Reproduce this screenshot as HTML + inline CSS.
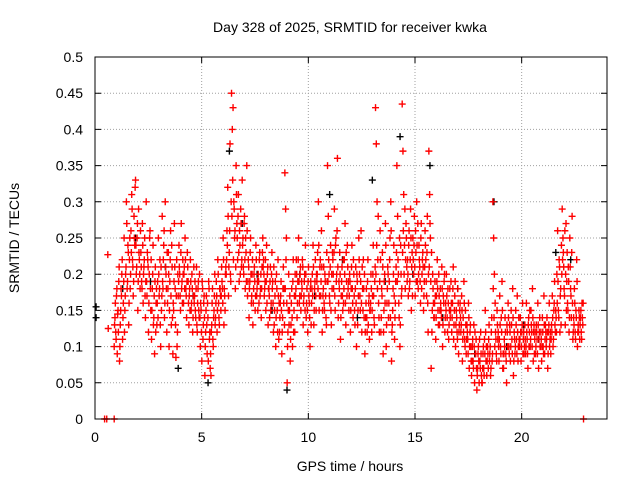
<!DOCTYPE html>
<html><head><meta charset="utf-8"><style>
body{margin:0;background:#fff}
svg text{font-family:"Liberation Sans",sans-serif;font-size:14px;fill:#000}
</style></head><body>
<svg id="chart" width="640" height="480" viewBox="0 0 640 480" xmlns="http://www.w3.org/2000/svg">
<rect width="640" height="480" fill="#fff"/>
<text x="350" y="32" text-anchor="middle">Day 328 of 2025, SRMTID for receiver kwka</text>
<text x="350" y="471" text-anchor="middle">GPS time / hours</text>
<text transform="translate(19,238) rotate(-90)" text-anchor="middle">SRMTID / TECUs</text>
<g id="grid"></g><g id="ticks"></g><g id="marks"></g>
<rect x="95" y="57" width="512" height="362" fill="none" stroke="#000" stroke-width="1"/>
</svg>
<script>
const xTicks=[0,5,10,15,20];
const yTicks=[0,0.05,0.1,0.15,0.2,0.25,0.3,0.35,0.4,0.45,0.5];
const yTickLabels=["0","0.05","0.1","0.15","0.2","0.25","0.3","0.35","0.4","0.45","0.5"];
const binStarts=[];for(let t=0.90;t<22.8;t+=0.25)binStarts.push(+t.toFixed(2));
const binValues=[
[.10,.14,.12,.17,.09,.15,.19],[.08,.13,.18,.20,.11,.16,.25],[.15,.20,.30,.18,.24,.13,.22],[.18,.26,.31,.22,.17,.28,.24],
[.33,.20,.25,.15,.29,.22,.18],[.23,.19,.27,.16,.21,.25,.14],[.30,.17,.22,.12,.20,.26,.15],[.11,.18,.24,.14,.09,.21,.16],
[.13,.19,.25,.17,.22,.10,.15],[.28,.18,.24,.14,.30,.20,.12],[.16,.23,.10,.19,.26,.13,.21],[.09,.15,.27,.18,.085,.22,.12],
[.17,.24,.20,.15,.27,.19,.22],[.16,.21,.25,.18,.14,.23,.19],[.13,.18,.22,.15,.20,.12,.17],[.16,.19,.14,.21,.12,.18,.15],
[.20,.10,.15,.08,.18,.13,.17],[.06,.12,.17,.09,.14,.19,.11],[.07,.06,.13,.18,.10,.15,.20],[.14,.19,.12,.22,.16,.13,.18],
[.15,.21,.18,.25,.13,.17,.20],[.20,.26,.32,.17,.23,.38,.19],[.45,.40,.43,.30,.25,.18,.35],[.27,.22,.31,.19,.24,.29,.21],
[.33,.25,.20,.28,.18,.23,.35],[.17,.22,.14,.19,.25,.16,.20],[.13,.18,.21,.15,.24,.17,.19],[.20,.16,.23,.18,.14,.21,.25],
[.22,.17,.19,.15,.24,.20,.13],[.18,.14,.21,.16,.23,.19,.12],[.13,.17,.10,.20,.15,.22,.11],[.12,.16,.19,.09,.14,.21,.18],
[.34,.29,.25,.05,.12,.20,.15],[.08,.13,.18,.10,.22,.15,.12],[.17,.22,.14,.19,.25,.16,.20],[.15,.19,.22,.13,.17,.20,.24],
[.14,.18,.12,.21,.16,.10,.19],[.16,.20,.24,.13,.18,.22,.15],[.19,.23,.30,.15,.21,.17,.26],[.12,.17,.21,.15,.19,.14,.23],
[.35,.28,.20,.16,.24,.13,.18],[.22,.18,.29,.15,.25,.20,.36],[.14,.19,.23,.11,.17,.21,.15],[.16,.22,.27,.13,.19,.24,.18],
[.15,.20,.12,.18,.24,.16,.22],[.17,.13,.21,.10,.19,.15,.25],[.20,.15,.26,.12,.18,.22,.14],[.09,.14,.18,.12,.22,.16,.11],
[.15,.20,.12,.17,.24,.14,.19],[.43,.38,.30,.22,.16,.12,.26],[.12,.18,.23,.09,.15,.20,.27],[.10,.16,.21,.14,.19,.25,.30],
[.08,.13,.18,.24,.11,.16,.21],[.35,.28,.20,.14,.10,.24,.17],[.435,.37,.31,.24,.18,.27,.21],[.22,.17,.26,.19,.29,.15,.23],
[.25,.20,.28,.17,.23,.30,.19],[.18,.24,.21,.16,.27,.20,.23],[.15,.19,.26,.22,.17,.28,.12],[.37,.31,.25,.07,.12,.20,.16],
[.14,.19,.11,.17,.22,.15,.20],[.13,.18,.15,.21,.10,.17,.19],[.12,.16,.20,.14,.18,.11,.15],[.14,.19,.12,.16,.21,.13,.17],
[.10,.15,.12,.18,.09,.13,.16],[.12,.17,.08,.14,.19,.11,.15],[.09,.13,.11,.16,.07,.12,.10],[.06,.10,.08,.13,.05,.09,.11],
[.04,.07,.10,.05,.08,.12,.06],[.05,.09,.07,.11,.15,.08,.06],[.10,.07,.13,.09,.06,.12,.08],[.30,.25,.20,.16,.11,.08,.13],
[.12,.08,.17,.10,.14,.19,.07],[.07,.11,.14,.09,.05,.12,.16],[.10,.13,.08,.15,.11,.18,.06],[.12,.09,.15,.11,.17,.08,.14],
[.10,.14,.08,.12,.16,.11,.09],[.13,.09,.16,.11,.07,.14,.12],[.10,.15,.12,.18,.08,.13,.11],[.09,.13,.11,.16,.07,.12,.10],
[.12,.08,.14,.10,.17,.09,.13],[.10,.14,.07,.12,.16,.11,.09],[.13,.17,.10,.15,.19,.12,.14],[.20,.26,.15,.22,.12,.18,.24],
[.29,.25,.21,.17,.13,.27,.19],[.16,.21,.12,.25,.18,.14,.28],[.11,.14,.18,.12,.15,.22,.10],[.13,.15,.11,.14,.12,.16,.13]
];
const binValues2=[
[.13,.16,.11,.18,.145,.12,.21],[.10,.15,.17,.22,.14,.19,.12],[.17,.21,.27,.19,.23,.16,.25],[.20,.23,.29,.21,.19,.25,.32],
[.24,.21,.27,.19,.23,.20,.26],[.21,.18,.24,.20,.22,.17,.19],[.19,.23,.21,.16,.25,.18,.22],[.15,.20,.13,.17,.19,.12,.18],
[.16,.14,.20,.18,.13,.21,.17],[.19,.22,.26,.16,.21,.18,.23],[.18,.20,.15,.22,.17,.24,.14],[.16,.19,.21,.13,.17,.10,.20],
[.19,.21,.17,.23,.18,.16,.20],[.20,.18,.22,.17,.19,.21,.16],[.17,.15,.19,.16,.18,.14,.21],[.17,.15,.18,.13,.16,.19,.14],
[.14,.16,.12,.19,.11,.16,.14],[.10,.15,.13,.16,.08,.18,.12],[.09,.12,.16,.11,.14,.17,.13],[.16,.17,.15,.20,.14,.18,.17],
[.17,.19,.16,.22,.18,.15,.21],[.22,.24,.28,.21,.26,.20,.30],[.28,.33,.22,.29,.26,.21,.31],[.25,.28,.23,.26,.20,.27,.22],
[.24,.21,.27,.22,.25,.19,.26],[.19,.21,.18,.23,.20,.17,.22],[.16,.20,.19,.17,.22,.18,.15],[.19,.22,.17,.20,.18,.23,.21],
[.20,.18,.22,.19,.16,.21,.18],[.17,.19,.15,.20,.18,.16,.21],[.15,.19,.14,.18,.12,.17,.16],[.14,.17,.15,.12,.18,.16,.13],
[.18,.22,.16,.10,.15,.13,.17],[.11,.16,.14,.19,.12,.17,.20],[.18,.20,.16,.22,.19,.17,.21],[.17,.18,.21,.16,.19,.15,.20],
[.16,.15,.19,.17,.14,.18,.13],[.18,.17,.21,.15,.19,.17,.20],[.20,.18,.24,.17,.22,.19,.21],[.15,.18,.16,.20,.17,.13,.19],
[.19,.22,.17,.21,.15,.20,.23],[.20,.23,.17,.24,.19,.26,.21],[.16,.18,.20,.14,.19,.17,.22],[.18,.20,.16,.23,.17,.21,.19],
[.17,.19,.15,.21,.18,.14,.20],[.15,.18,.16,.20,.13,.17,.22],[.17,.19,.16,.21,.15,.18,.20],[.12,.16,.14,.19,.13,.17,.15],
[.16,.18,.15,.20,.17,.13,.21],[.20,.24,.18,.28,.14,.19,.22],[.14,.17,.21,.12,.19,.16,.24],[.13,.18,.20,.16,.22,.14,.26],
[.12,.15,.20,.17,.14,.19,.23],[.19,.22,.16,.25,.13,.20,.18],[.23,.26,.20,.29,.22,.25,.19],[.20,.24,.18,.22,.25,.21,.17],
[.22,.24,.21,.26,.19,.24,.27],[.20,.22,.19,.25,.18,.22,.21],[.17,.21,.24,.19,.23,.16,.20],[.21,.27,.19,.23,.15,.18,.14],
[.16,.17,.14,.19,.18,.13,.17],[.15,.16,.14,.18,.13,.16,.20],[.14,.15,.17,.12,.16,.13,.18],[.15,.16,.14,.18,.11,.15,.19],
[.13,.14,.11,.16,.12,.15,.14],[.13,.15,.11,.12,.16,.10,.13],[.11,.12,.09,.14,.10,.13,.08],[.08,.11,.07,.10,.12,.09,.07],
[.06,.09,.08,.11,.07,.09,.05],[.07,.10,.06,.09,.12,.10,.08],[.09,.11,.08,.10,.07,.14,.09],[.18,.14,.10,.12,.09,.15,.11],
[.10,.11,.13,.09,.12,.15,.09],[.09,.10,.12,.08,.13,.10,.14],[.09,.12,.10,.13,.09,.14,.08],[.11,.10,.13,.09,.12,.10,.11],
[.11,.12,.10,.13,.09,.12,.10],[.11,.10,.12,.09,.13,.10,.15],[.11,.13,.10,.14,.12,.09,.12],[.10,.12,.09,.13,.11,.14,.10],
[.11,.10,.12,.09,.13,.11,.12],[.11,.12,.09,.13,.10,.12,.11],[.12,.14,.11,.16,.13,.15,.12],[.16,.19,.14,.21,.17,.13,.20],
[.22,.23,.18,.26,.20,.15,.23],[.15,.19,.14,.21,.17,.23,.16],[.12,.13,.16,.11,.14,.19,.12],[.12,.14,.13,.15,.11,.14,.16]
];
const extraTimes=[0.45,0.55,0.9,22.9,0.6,0.62];
const extraValues=[0,0,0,0,0.227,0.125];
const blackTimes=[0.05,0.05,1.3,1.9,2.6,3.3,3.9,4.6,5.3,6.3,6.9,7.6,8.3,9.0,9.6,10.3,11.0,11.6,12.3,13.0,13.6,14.3,14.9,15.7,16.3,17.0,17.8,18.7,19.3,20.1,20.8,21.6,22.3];
const blackValues=[0.155,0.14,0.18,0.25,0.19,0.21,0.07,0.17,0.05,0.37,0.27,0.2,0.15,0.04,0.2,0.17,0.31,0.22,0.14,0.33,0.19,0.39,0.2,0.35,0.14,0.18,0.09,0.3,0.1,0.13,0.11,0.23,0.22];
const NS="http://www.w3.org/2000/svg";
const X=t=>95+t*512/24, Y=v=>419-v*724;
const grid=document.getElementById('grid'),ticks=document.getElementById('ticks'),marks=document.getElementById('marks');
function mk(tag,attrs,parent){const e=document.createElementNS(NS,tag);for(const k in attrs)e.setAttribute(k,attrs[k]);parent.appendChild(e);return e;}
xTicks.forEach(t=>{
 if(t>0){const g=mk('line',{x1:X(t),x2:X(t),y1:57,y2:419,stroke:'#a0a0a0','stroke-dasharray':'1,2'},grid);
 
 }
 const tk=mk('path',{d:`M${X(t)} 419v-6M${X(t)} 57v6`,stroke:'#000'},ticks);
 
 
 const l=mk('text',{x:X(t),y:442,'text-anchor':'middle'},ticks);l.textContent=t;
 
 
});
yTicks.forEach((v,i)=>{
 if(v>0&&v<0.5){const g=mk('line',{x1:95,x2:607,y1:Y(v),y2:Y(v),stroke:'#a0a0a0','stroke-dasharray':'1,2'},grid);
 
 }
 const tk=mk('path',{d:`M95 ${Y(v)}h6M607 ${Y(v)}h-6`,stroke:'#000'},ticks);
 
 
 const l=mk('text',{x:83,y:Y(v)+5,'text-anchor':'end'},ticks);l.textContent=yTickLabels[i];
 
 
});
function plus(t,v,c,name){const x=X(t),y=Y(v);
 const p=mk('path',{d:`M${x-3.5} ${y}H${x+3.5}M${x} ${y-3.5}V${y+3.5}`,stroke:c,'stroke-width':1.4,fill:'none'},marks);
 
 }
blackTimes.forEach((t,i)=>plus(t,blackValues[i],'#000','black-point'));
binStarts.forEach((t0,b)=>{const vals=binValues[b]||[];vals.forEach((v,j)=>plus(t0+j*0.25/vals.length,v,'#f00','red-point'));});
binStarts.forEach((t0,b)=>{const vals=binValues2[b]||[];vals.forEach((v,j)=>plus(t0+(j+0.5)*0.25/vals.length,v,'#f00','red-point'));});
extraTimes.forEach((t,i)=>plus(t,extraValues[i],'#f00','red-point'));
</script>
</body></html>
